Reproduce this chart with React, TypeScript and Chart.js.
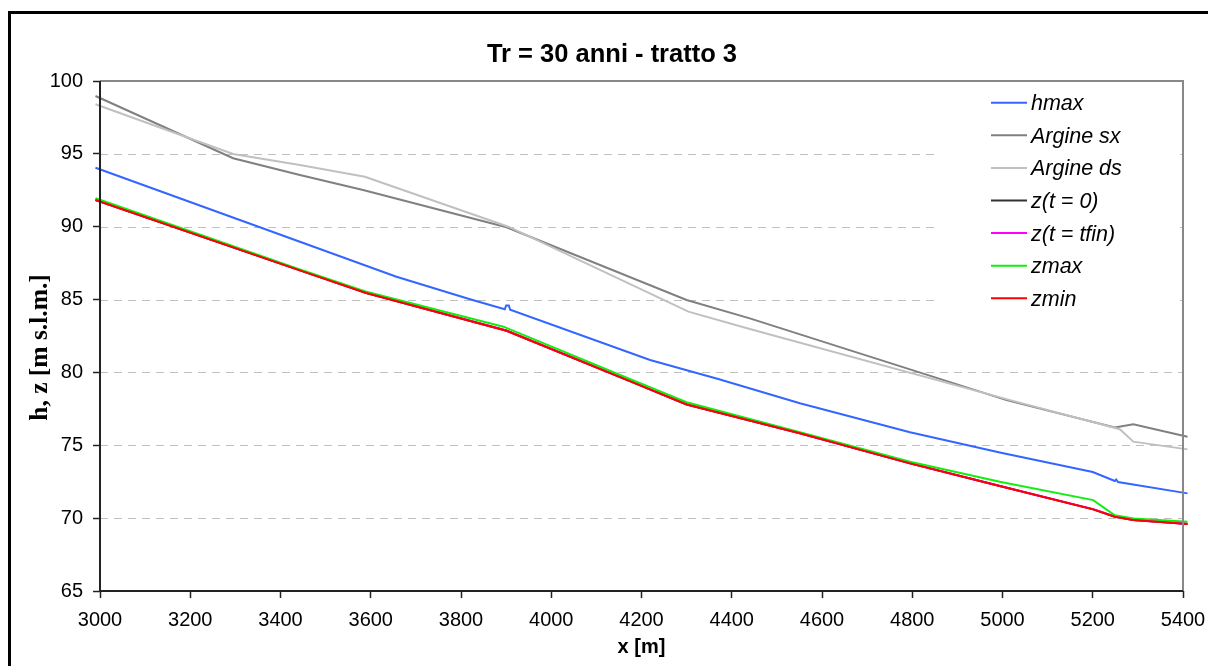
import React, { useEffect, useRef } from "react";
import { Chart, registerables } from "chart.js";

Chart.register(...registerables);

// ---- Text ----
const TITLE = "Tr = 30 anni - tratto 3";
const X_TITLE = "x [m]";
const Y_TITLE = "h, z [m s.l.m.]";

// ---- Axes ----
const X_MIN = 3000;
const X_MAX = 5400;
const X_STEP = 200;
const Y_MIN = 65;
const Y_MAX = 100;
const Y_STEP = 5;
const GRID_VALUES = [70, 75, 80, 85, 90, 95];

// ---- Series ----
const seriesNames = ["hmax", "Argine sx", "Argine ds", "z(t = 0)", "z(t = tfin)", "zmax", "zmin"];
const seriesColors = ["#3366FF", "#808080", "#C0C0C0", "#333333", "#FF00FF", "#11EE11", "#FF0000"];

const hmaxX = [2990, 3443, 3657, 3820, 3897, 3900, 3906, 3909, 4219, 4370, 4551, 4795, 4994, 5200, 5249, 5252, 5256, 5410];
const hmaxY = [94.05, 88.97, 86.57, 85.02, 84.33, 84.6, 84.6, 84.3, 80.85, 79.55, 77.88, 75.89, 74.5, 73.17, 72.55, 72.65, 72.48, 71.7];

const sxX = [2990, 3295, 3443, 3583, 3901, 4300, 4440, 5009, 5249, 5290, 5410];
const sxY = [98.97, 94.7, 93.55, 92.52, 89.96, 84.97, 83.71, 78.1, 76.23, 76.44, 75.59];

const dsX = [2990, 3295, 3443, 3587, 3905, 4304, 4440, 5017, 5260, 5290, 5410];
const dsY = [98.4, 94.99, 94.24, 93.43, 90.0, 84.17, 82.98, 78.1, 76.1, 75.25, 74.72];

const z0X = [2990, 3443, 3590, 3901, 4174, 4300, 4551, 4795, 4994, 5201, 5249, 5290, 5410];
const z0Y = [91.83, 87.0, 85.45, 82.86, 79.4, 77.8, 75.82, 73.76, 72.2, 70.6, 70.1, 69.87, 69.6];

const zfinX = [2990, 3443, 3590, 3901, 4174, 4300, 4551, 4795, 4994, 5201, 5249, 5290, 5410];
const zfinY = [91.85, 87.02, 85.47, 82.88, 79.42, 77.82, 75.83, 73.77, 72.21, 70.62, 70.11, 69.88, 69.61];

const zmaxX = [2990, 3443, 3588, 3894, 4174, 4300, 4551, 4795, 4994, 5201, 5249, 5290, 5410];
const zmaxY = [91.95, 87.07, 85.55, 83.14, 79.55, 77.95, 75.89, 73.87, 72.5, 71.24, 70.2, 69.98, 69.75];

const zminX = [2990, 3443, 3590, 3901, 4174, 4300, 4551, 4795, 4994, 5201, 5249, 5290, 5410];
const zminY = [91.83, 87.0, 85.45, 82.86, 79.4, 77.8, 75.82, 73.76, 72.2, 70.6, 70.1, 69.87, 69.6];

const seriesX = [hmaxX, sxX, dsX, z0X, zfinX, zmaxX, zminX];
const seriesY = [hmaxY, sxY, dsY, z0Y, zfinY, zmaxY, zminY];

const SANS = '"Liberation Sans", Arial, Helvetica, sans-serif';
const SERIF = '"Liberation Serif", "Times New Roman", serif';

const decorPlugin = {
  id: "decor",
  beforeDatasetsDraw(chart: any) {
    const { ctx, chartArea } = chart;
    const yScale = chart.scales.y;
    ctx.save();
    // dashed grid lines
    ctx.strokeStyle = "#C0C0C0";
    ctx.lineWidth = 1;
    ctx.setLineDash([8, 6]);
    GRID_VALUES.forEach((v) => {
      const y = Math.round(yScale.getPixelForValue(v)) + 0.5;
      ctx.beginPath();
      ctx.moveTo(chartArea.left, y);
      ctx.lineTo(chartArea.right, y);
      ctx.stroke();
    });
    ctx.setLineDash([]);
    // legend background box
    ctx.fillStyle = "#FFFFFF";
    ctx.fillRect(937, 86, 243, 232);
    // legend items
    const rowY0 = 102.7;
    const rowStep = 32.6;
    ctx.font = 'italic 21.5px ' + SANS;
    ctx.textAlign = "left";
    ctx.textBaseline = "alphabetic";
    seriesNames.forEach((name, i) => {
      const ly = rowY0 + i * rowStep;
      ctx.strokeStyle = seriesColors[i];
      ctx.lineWidth = 2;
      ctx.beginPath();
      ctx.moveTo(991, ly);
      ctx.lineTo(1027, ly);
      ctx.stroke();
      ctx.fillStyle = "#000000";
      ctx.fillText(name, 1031, ly + 7.5);
    });
    ctx.restore();
  },
  afterDraw(chart: any) {
    const { ctx, chartArea } = chart;
    ctx.save();
    // plot frame: top/right gray, left/bottom dark
    ctx.lineWidth = 2;
    ctx.strokeStyle = "#888888";
    ctx.beginPath();
    ctx.moveTo(chartArea.left, chartArea.top);
    ctx.lineTo(chartArea.right, chartArea.top);
    ctx.lineTo(chartArea.right, chartArea.bottom);
    ctx.stroke();
    ctx.strokeStyle = "#222222";
    ctx.beginPath();
    ctx.moveTo(chartArea.left, chartArea.top);
    ctx.lineTo(chartArea.left, chartArea.bottom);
    ctx.lineTo(chartArea.right, chartArea.bottom);
    ctx.stroke();

    // outer frame
    ctx.lineWidth = 3;
    ctx.strokeStyle = "#000000";
    ctx.strokeRect(9.5, 12.5, 1300, 800);

    // title
    ctx.fillStyle = "#000000";
    ctx.font = "bold 25.5px " + SANS;
    ctx.textAlign = "center";
    ctx.textBaseline = "alphabetic";
    ctx.fillText(TITLE, 612, 62);

    // x title
    ctx.font = "bold 20px " + SANS;
    ctx.fillText(X_TITLE, (chartArea.left + chartArea.right) / 2, 653);

    // y title
    ctx.save();
    ctx.translate(46.5, 347.5);
    ctx.rotate(-Math.PI / 2);
    ctx.font = "bold 25.5px " + SERIF;
    ctx.fillText(Y_TITLE, 0, 0);
    ctx.restore();

    ctx.restore();
  },
};

export default function App() {
  const ref = useRef<HTMLCanvasElement | null>(null);

  useEffect(() => {
    if (!ref.current) return;
    const datasets = seriesNames.map((name, i) => ({
      label: name,
      data: seriesX[i].map((x, j) => ({ x, y: seriesY[i][j] })),
      borderColor: seriesColors[i],
      backgroundColor: seriesColors[i],
      borderWidth: 2,
      pointRadius: 0,
      pointHoverRadius: 0,
      tension: 0,
      fill: false,
      clip: 8,
      order: seriesNames.length - i,
    }));

    const tickFont = { family: SANS, size: 20 };

    const chart = new Chart(ref.current, {
      type: "line",
      data: { datasets },
      options: {
        animation: false,
        responsive: false,
        devicePixelRatio: 1,
        events: [],
        layout: { padding: { left: 40, right: 25, top: 81, bottom: 35 } },
        plugins: {
          legend: { display: false },
          title: { display: false },
          tooltip: { enabled: false },
        },
        scales: {
          x: {
            type: "linear",
            min: X_MIN,
            max: X_MAX,
            ticks: {
              stepSize: X_STEP,
              color: "#000000",
              font: tickFont,
              padding: 10,
              maxRotation: 0,
              autoSkip: false,
              callback: (v: any) => String(v),
            },
            grid: {
              drawOnChartArea: false,
              drawTicks: true,
              tickLength: 7,
              tickColor: "#222222",
              tickWidth: 1.5,
            },
            border: { display: false },
            afterFit: (s: any) => {
              s.height = 40;
              s.paddingLeft = 0;
              s.paddingRight = 0;
            },
          },
          y: {
            type: "linear",
            min: Y_MIN,
            max: Y_MAX,
            ticks: {
              stepSize: Y_STEP,
              color: "#000000",
              font: tickFont,
              padding: 10,
              callback: (v: any) => String(v),
            },
            grid: {
              drawOnChartArea: false,
              drawTicks: true,
              tickLength: 7,
              tickColor: "#222222",
              tickWidth: 1.5,
            },
            border: { display: false },
            afterFit: (s: any) => {
              s.width = 60;
              s.paddingTop = 0;
              s.paddingBottom = 0;
            },
          },
        },
      } as any,
      plugins: [decorPlugin],
    });

    return () => chart.destroy();
  }, []);

  return (
    <canvas
      ref={ref}
      width={1208}
      height={666}
      style={{ position: "absolute", left: 0, top: 0, width: 1208, height: 666, display: "block" }}
    />
  );
}
